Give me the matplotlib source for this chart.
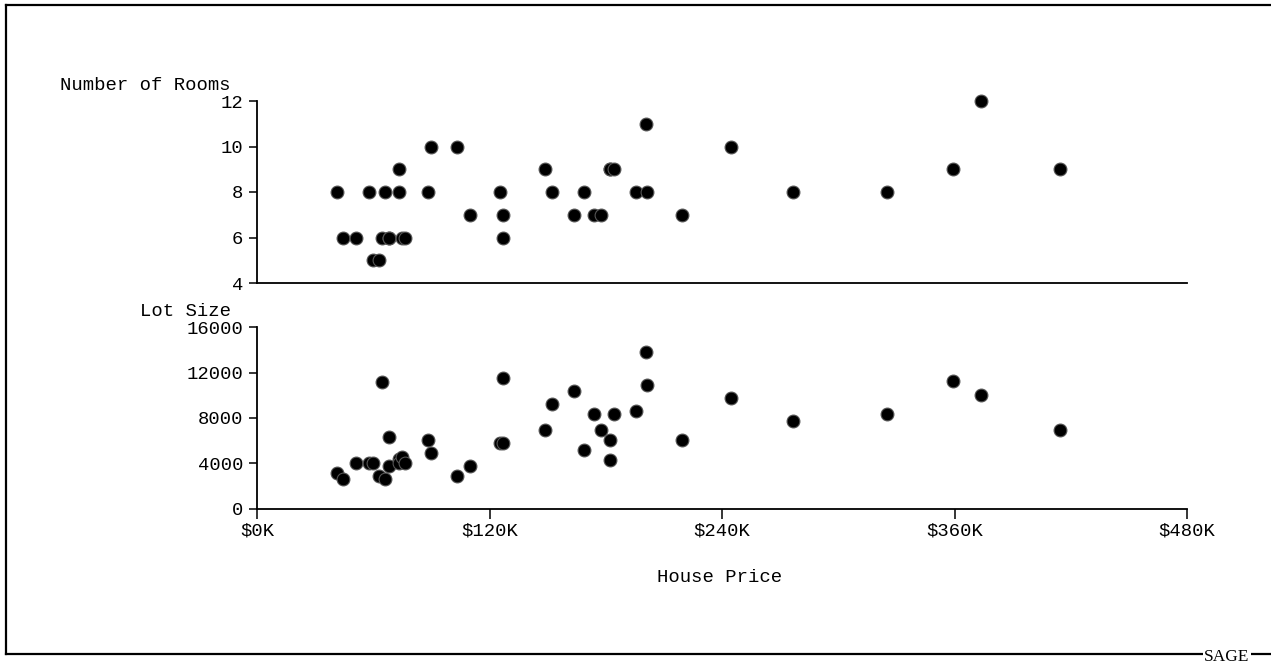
import matplotlib.pyplot as plt
from matplotlib.lines import Line2D

# House price (thousands of $), number of rooms, lot size
price = [41.1, 44.6, 51.3, 58.0, 59.8, 63.0, 64.5, 66.3, 68.0, 68.0,
         73.1, 73.1, 74.6, 76.4, 88.3, 89.8, 103.4, 110.1, 125.3, 127.0,
         127.0, 148.8, 152.1, 163.8, 168.9, 174.1, 177.5, 182.2, 182.2, 184.0,
         195.6, 200.9, 201.1, 219.4, 244.6, 276.4, 325.2, 359.0, 373.7, 414.3]
rooms = [8, 6, 6, 8, 5, 5, 6, 8, 6, 6,
         9, 8, 6, 6, 8, 10, 10, 7, 8, 7,
         6, 9, 8, 7, 8, 7, 7, 9, 9, 9,
         8, 11, 8, 7, 10, 8, 8, 9, 12, 9]
lot_size = [3175, 2593, 4030, 4030, 4030, 2884, 11200, 2593, 6324, 3766,
            4380, 4030, 4586, 4030, 6060, 4910, 2884, 3766, 5770, 5770,
            11500, 6915, 9208, 10355, 5177, 8352, 6915, 6060, 4322, 8352,
            8617, 13794, 10910, 6060, 9764, 7760, 8352, 11236, 10055, 6915]

x_ticks = [0, 120, 240, 360, 480]
x_labels = ['$0K', '$120K', '$240K', '$360K', '$480K']

W, H = 1271, 666
mono = 'Liberation Mono'
fs = 13.6

fig = plt.figure(figsize=(W / 100, H / 100), dpi=100)


def px_axes(left, top, right, bottom):
    return fig.add_axes([left / W, 1 - bottom / H, (right - left) / W, (bottom - top) / H])


ax1 = px_axes(257, 101, 1187, 283)
ax2 = px_axes(257, 327.3, 1187, 508.7)

for ax in (ax1, ax2):
    ax.spines['top'].set_visible(False)
    ax.spines['right'].set_visible(False)
    for s in ('left', 'bottom'):
        ax.spines[s].set_linewidth(1.3)
        ax.spines[s].set_color('black')
    ax.set_xlim(0, 480)
    ax.tick_params(axis='y', length=6, width=1.1, pad=4, labelsize=fs)

ax1.scatter(price, rooms, s=85, c='black', edgecolors='#555555', linewidths=0.8, zorder=3, clip_on=False)
ax2.scatter(price, lot_size, s=85, c='black', edgecolors='#555555', linewidths=0.8, zorder=3, clip_on=False)

ax1.set_ylim(4, 12)
ax1.set_yticks([4, 6, 8, 10, 12])
ax1.set_xticks([])

ax2.set_ylim(0, 16000)
ax2.set_yticks([0, 4000, 8000, 12000, 16000])
ax2.set_xticks(x_ticks)
ax2.set_xticklabels(x_labels)
ax2.tick_params(axis='x', length=7, width=1.1, pad=3, labelsize=fs)

for ax in (ax1, ax2):
    for lab in ax.get_yticklabels() + ax.get_xticklabels():
        lab.set_family(mono)

fig.text(231 / W, 1 - 85 / H, 'Number of Rooms', ha='right', va='center', family=mono, fontsize=fs)
fig.text(231 / W, 1 - 312 / H, 'Lot Size', ha='right', va='center', family=mono, fontsize=fs)
fig.text(720 / W, 1 - 577 / H, 'House Price', ha='center', va='center', family=mono, fontsize=fs)

# outer frame
lw = 1.6
fig.add_artist(Line2D([6 / W, 6 / W], [1 - 5 / H, 1 - 654 / H], color='black', lw=lw, transform=fig.transFigure))
fig.add_artist(Line2D([6 / W, 1], [1 - 5 / H, 1 - 5 / H], color='black', lw=lw, transform=fig.transFigure))
fig.add_artist(Line2D([6 / W, 1], [1 - 654 / H, 1 - 654 / H], color='black', lw=lw, transform=fig.transFigure))
fig.text(1227 / W, 1 - 657 / H, 'SAGE', ha='center', va='center', family='Liberation Serif', fontsize=12.5,
         bbox=dict(facecolor='white', edgecolor='none', pad=1.0))

fig.savefig('out.png', dpi=100)
